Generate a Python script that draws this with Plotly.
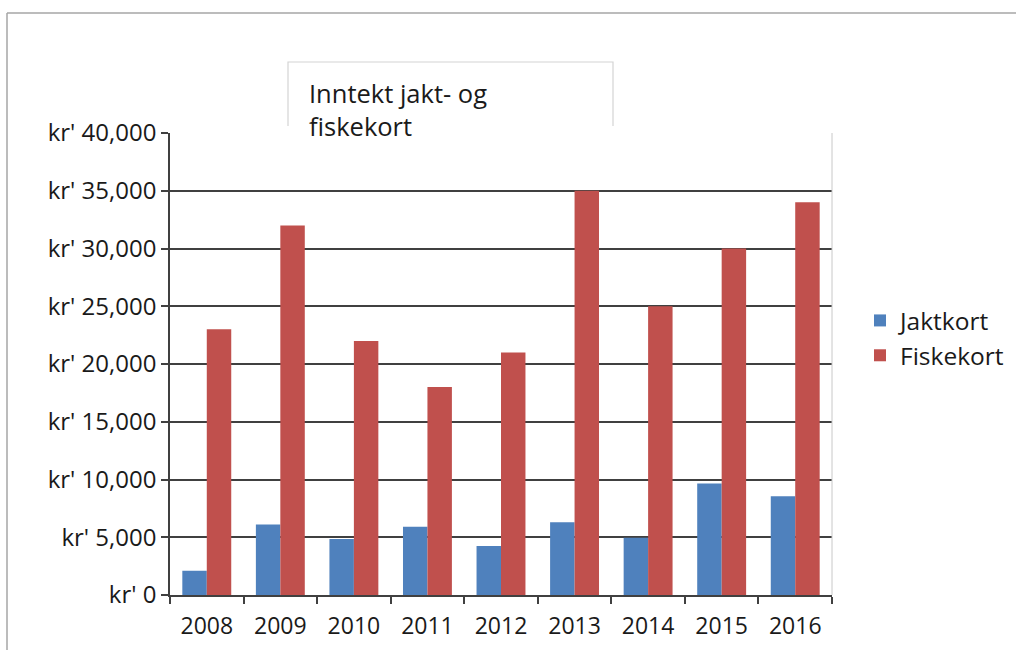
import plotly.graph_objects as go

years = ["2008", "2009", "2010", "2011", "2012", "2013", "2014", "2015", "2016"]
jaktkort = [2100, 6100, 4850, 5900, 4250, 6300, 4950, 9650, 8550]
fiskekort = [23000, 32000, 22000, 18000, 21000, 35000, 25000, 30000, 34000]
y_ticks = [0, 5000, 10000, 15000, 20000, 25000, 30000, 35000, 40000]
y_labels = ["kr' 0", "kr' 5,000", "kr' 10,000", "kr' 15,000", "kr' 20,000",
            "kr' 25,000", "kr' 30,000", "kr' 35,000", "kr' 40,000"]

W, H = 1016, 650
L, R, T, B = 170, 832, 133, 595

def px(x):
    return (x - L) / (R - L)

def py(y):
    return (B - y) / (B - T)

FONT = "Open Sans"
TXT = "#1a1a1a"

fig = go.Figure()
fig.add_trace(go.Bar(x=years, y=jaktkort, name="Jaktkort", marker_color="#4F81BD",
                     marker_line_width=0))
fig.add_trace(go.Bar(x=years, y=fiskekort, name="Fiskekort", marker_color="#C0504D",
                     marker_line_width=0))

shapes = [
    # outer frame
    dict(type="line", xref="paper", yref="paper", x0=px(7), x1=px(7), y0=py(13), y1=py(660),
         line=dict(color="#a6a6a6", width=1.5)),
    dict(type="line", xref="paper", yref="paper", x0=px(7), x1=px(1030), y0=py(13), y1=py(13),
         line=dict(color="#a6a6a6", width=1.5)),
    # title box (three sides)
    dict(type="path", xref="paper", yref="paper",
         path=f"M {px(288)} {py(126)} L {px(288)} {py(62)} L {px(613)} {py(62)} L {px(613)} {py(126)}",
         line=dict(color="#d4d4d4", width=1.2)),
    # plot area right border
    dict(type="line", xref="paper", yref="paper", x0=1, x1=1, y0=0, y1=1,
         line=dict(color="#c8c8c8", width=1)),
]

fig.update_layout(
    width=W, height=H,
    margin=dict(l=L, r=W - R, t=T, b=H - B, autoexpand=False),
    paper_bgcolor="white", plot_bgcolor="white",
    barmode="group", bargap=0.335, bargroupgap=0,
    font=dict(family=FONT, size=18, color=TXT),
    showlegend=True,
    legend=dict(x=px(860), y=py(338), xanchor="left", yanchor="middle",
                font=dict(family=FONT, size=24.5, color=TXT),
                itemwidth=30, tracegroupgap=0, bgcolor="rgba(0,0,0,0)"),
    shapes=shapes,
    annotations=[dict(text="Inntekt jakt- og<br>fiskekort", xref="paper", yref="paper",
                      x=px(307), y=py(74), xanchor="left", yanchor="top", align="left",
                      showarrow=False, font=dict(family=FONT, size=25.5, color=TXT))],
)

fig.update_xaxes(type="category", showline=True, linecolor="#404040", linewidth=1.5,
                 ticks="outside", ticklen=7, tickcolor="#404040", tickwidth=1.5,
                 tickson="boundaries", showgrid=False, ticklabelstandoff=10,
                 tickfont=dict(family=FONT, size=23, color=TXT))
fig.update_yaxes(range=[0, 40000], tickvals=y_ticks, ticktext=y_labels,
                 showline=True, linecolor="#404040", linewidth=1.5,
                 ticks="outside", ticklen=7, tickcolor="#404040", tickwidth=1.5,
                 showgrid=True, gridcolor="#404040", gridwidth=1.5, zeroline=False,
                 tickfont=dict(family=FONT, size=24, color=TXT))

fig.write_html("out.html", config={"displayModeBar": False},
               post_script="document.body.style.margin='0';document.body.style.overflow='hidden';")
